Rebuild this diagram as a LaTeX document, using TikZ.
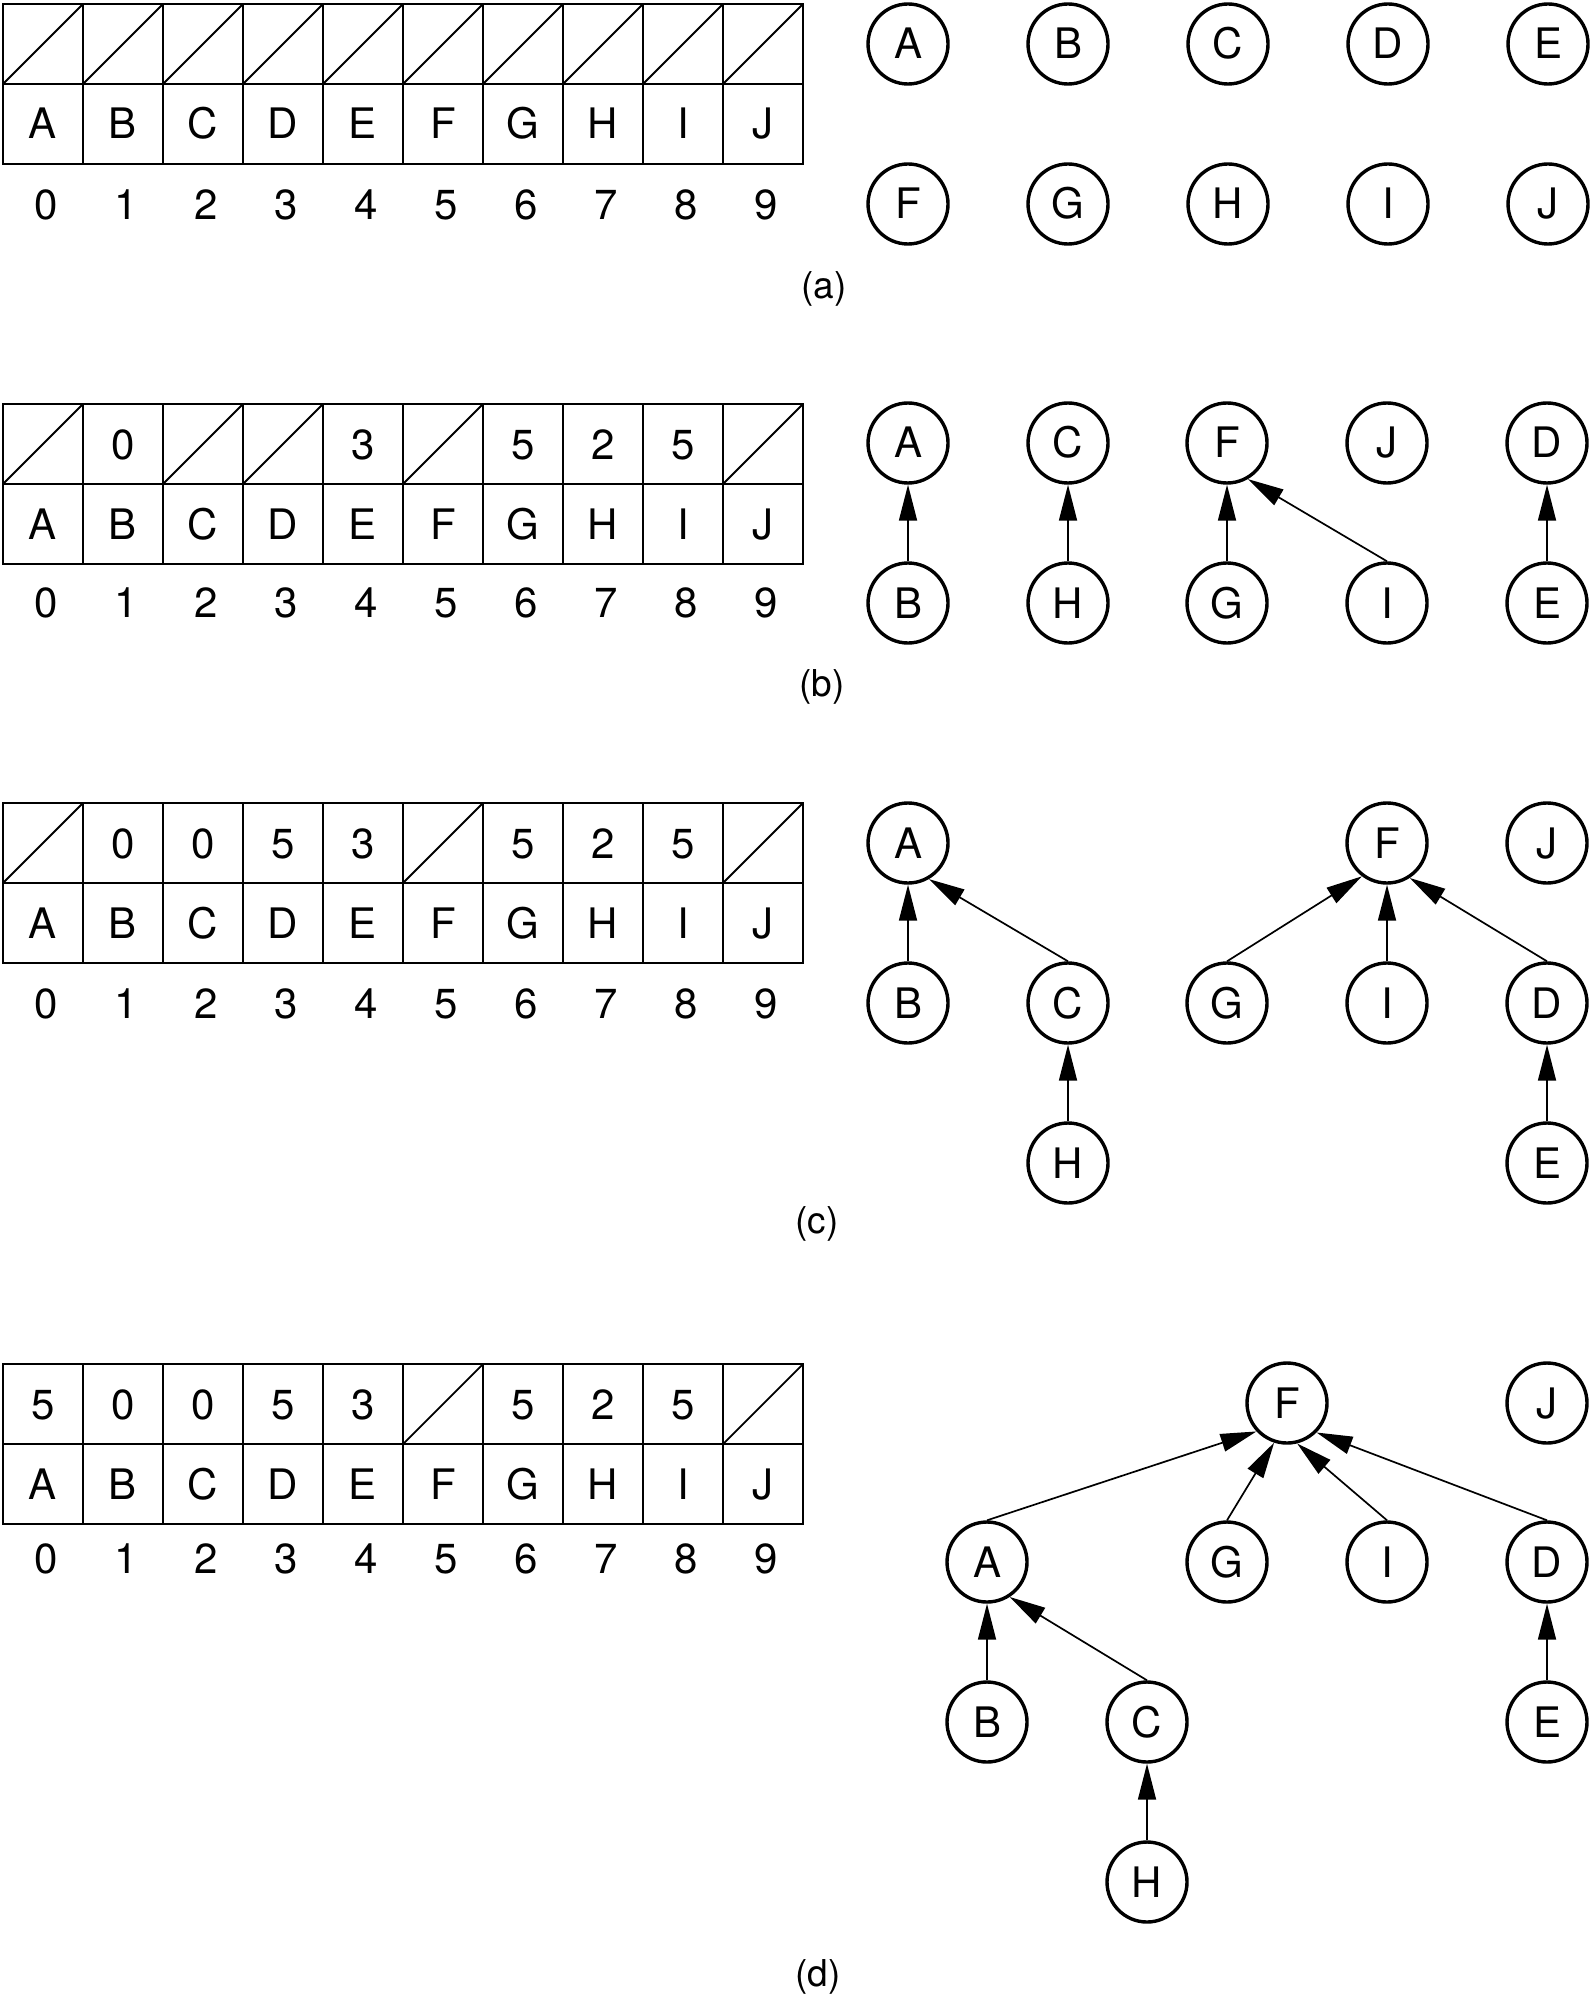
\documentclass[tikz,border=0pt]{standalone}
\usepackage{fontspec}
\setmainfont{TeX Gyre Heros}
\usetikzlibrary{arrows.meta}
\newcommand\mytable[5]{% #1 prefix, #2 top y, #3 numbers y, #4 diag indices, #5 index/value pairs
  \draw[tbl] (3,#2) rectangle (803,#2+160);
  \draw[tbl] (3,#2+80) -- (803,#2+80);
  \foreach \i in {1,...,9} \draw[tbl] (3+80*\i,#2) -- (3+80*\i,#2+160);
  \foreach \i in {#4} \draw[tbl] (3+80*\i,#2+80) -- (83+80*\i,#2);
  \foreach \i/\v in {#5} \node[celltxt] (#1v\i) at (43+80*\i,#2+40) {\v};
  \foreach \L [count=\i from 0] in {A,B,C,D,E,F,G,H,I,J}
    \node[celltxt] (#1l\i) at (43+80*\i,#2+120) {\L};
  \foreach \i in {0,...,9}
    \node[celltxt] (#1n\i) at (46+80*\i,#3) {\i};
}
\begin{document}
\begin{tikzpicture}[x=0.5pt,y=-0.5pt,
  tbl/.style={line width=0.9pt},
  celltxt/.style={font=\fontsize{21}{25}\selectfont, text height=15pt, text depth=0pt, inner sep=0pt},
  vnode/.style={circle, draw, line width=1.7pt, minimum size=40pt, inner sep=0pt,
    font=\fontsize{21}{25}\selectfont, text height=15pt, text depth=0pt},
  edge/.style={line width=0.85pt, -{Triangle[length=18pt,width=9pt]}},
  lab/.style={font=\fontsize{18.5}{22}\selectfont, inner sep=0pt}
]
\useasboundingbox (0,0) rectangle (1591,2000);

% ---------- (a) ----------
\mytable{a}{4}{205}{0,...,9}{}
\foreach \L [count=\k from 0] in {A,B,C,D,E} \node[vnode] (a\L) at (908+160*\k,44) {\L};
\foreach \L [count=\k from 0] in {F,G,H,I,J} \node[vnode] (a\L) at (908+160*\k,204) {\L};
\node[lab] (laba) at (824,289) {(a)};

% ---------- (b) ----------
\mytable{b}{404}{602}{0,2,3,5,9}{1/0,4/3,6/5,7/2,8/5}
\node[vnode] (bA) at (908,443) {A};
\node[vnode] (bC) at (1068,443) {C};
\node[vnode] (bF) at (1227,443) {F};
\node[vnode] (bJ) at (1387,443) {J};
\node[vnode] (bD) at (1547,443) {D};
\node[vnode] (bB) at (908,603) {B};
\node[vnode] (bH) at (1068,603) {H};
\node[vnode] (bG) at (1227,603) {G};
\node[vnode] (bI) at (1387,603) {I};
\node[vnode] (bE) at (1547,603) {E};
\draw[edge] (bB.north) -- (bA.south);
\draw[edge] (bH.north) -- (bC.south);
\draw[edge] (bG.north) -- (bF.south);
\draw[edge] (bI.north) -- (bF.300);
\draw[edge] (bE.north) -- (bD.south);
\node[lab] (labb) at (822,687) {(b)};

% ---------- (c) ----------
\mytable{c}{803}{1003}{0,5,9}{1/0,2/0,3/5,4/3,6/5,7/2,8/5}
\node[vnode] (cA) at (908,843) {A};
\node[vnode] (cF) at (1387,843) {F};
\node[vnode] (cJ) at (1547,843) {J};
\node[vnode] (cB) at (908,1003) {B};
\node[vnode] (cC) at (1068,1003) {C};
\node[vnode] (cG) at (1227,1003) {G};
\node[vnode] (cI) at (1387,1003) {I};
\node[vnode] (cD) at (1547,1003) {D};
\node[vnode] (cH) at (1068,1163) {H};
\node[vnode] (cE) at (1547,1163) {E};
\draw[edge] (cB.north) -- (cA.south);
\draw[edge] (cC.north) -- (cA.300);
\draw[edge] (cH.north) -- (cC.south);
\draw[edge] (cG.north) -- (cF.233);
\draw[edge] (cI.north) -- (cF.south);
\draw[edge] (cD.north) -- (cF.303);
\draw[edge] (cE.north) -- (cD.south);
\node[lab] (labc) at (817,1224) {(c)};

% ---------- (d) ----------
\mytable{d}{1364}{1558}{5,9}{0/5,1/0,2/0,3/5,4/3,6/5,7/2,8/5}
\node[vnode] (dF) at (1287,1403) {F};
\node[vnode] (dJ) at (1547,1403) {J};
\node[vnode] (dA) at (987,1562) {A};
\node[vnode] (dG) at (1227,1562) {G};
\node[vnode] (dI) at (1387,1562) {I};
\node[vnode] (dD) at (1547,1562) {D};
\node[vnode] (dB) at (987,1722) {B};
\node[vnode] (dC) at (1147,1722) {C};
\node[vnode] (dE) at (1547,1722) {E};
\node[vnode] (dH) at (1147,1882) {H};
\draw[edge] (dA.north) -- (dF.223);
\draw[edge] (dG.north) -- (dF.252);
\draw[edge] (dI.north) -- (dF.284);
\draw[edge] (dD.north) -- (dF.315);
\draw[edge] (dB.north) -- (dA.south);
\draw[edge] (dC.north) -- (dA.303);
\draw[edge] (dH.north) -- (dC.south);
\draw[edge] (dE.north) -- (dD.south);
\node[lab] (labd) at (818,1977) {(d)};
\end{tikzpicture}
\end{document}
